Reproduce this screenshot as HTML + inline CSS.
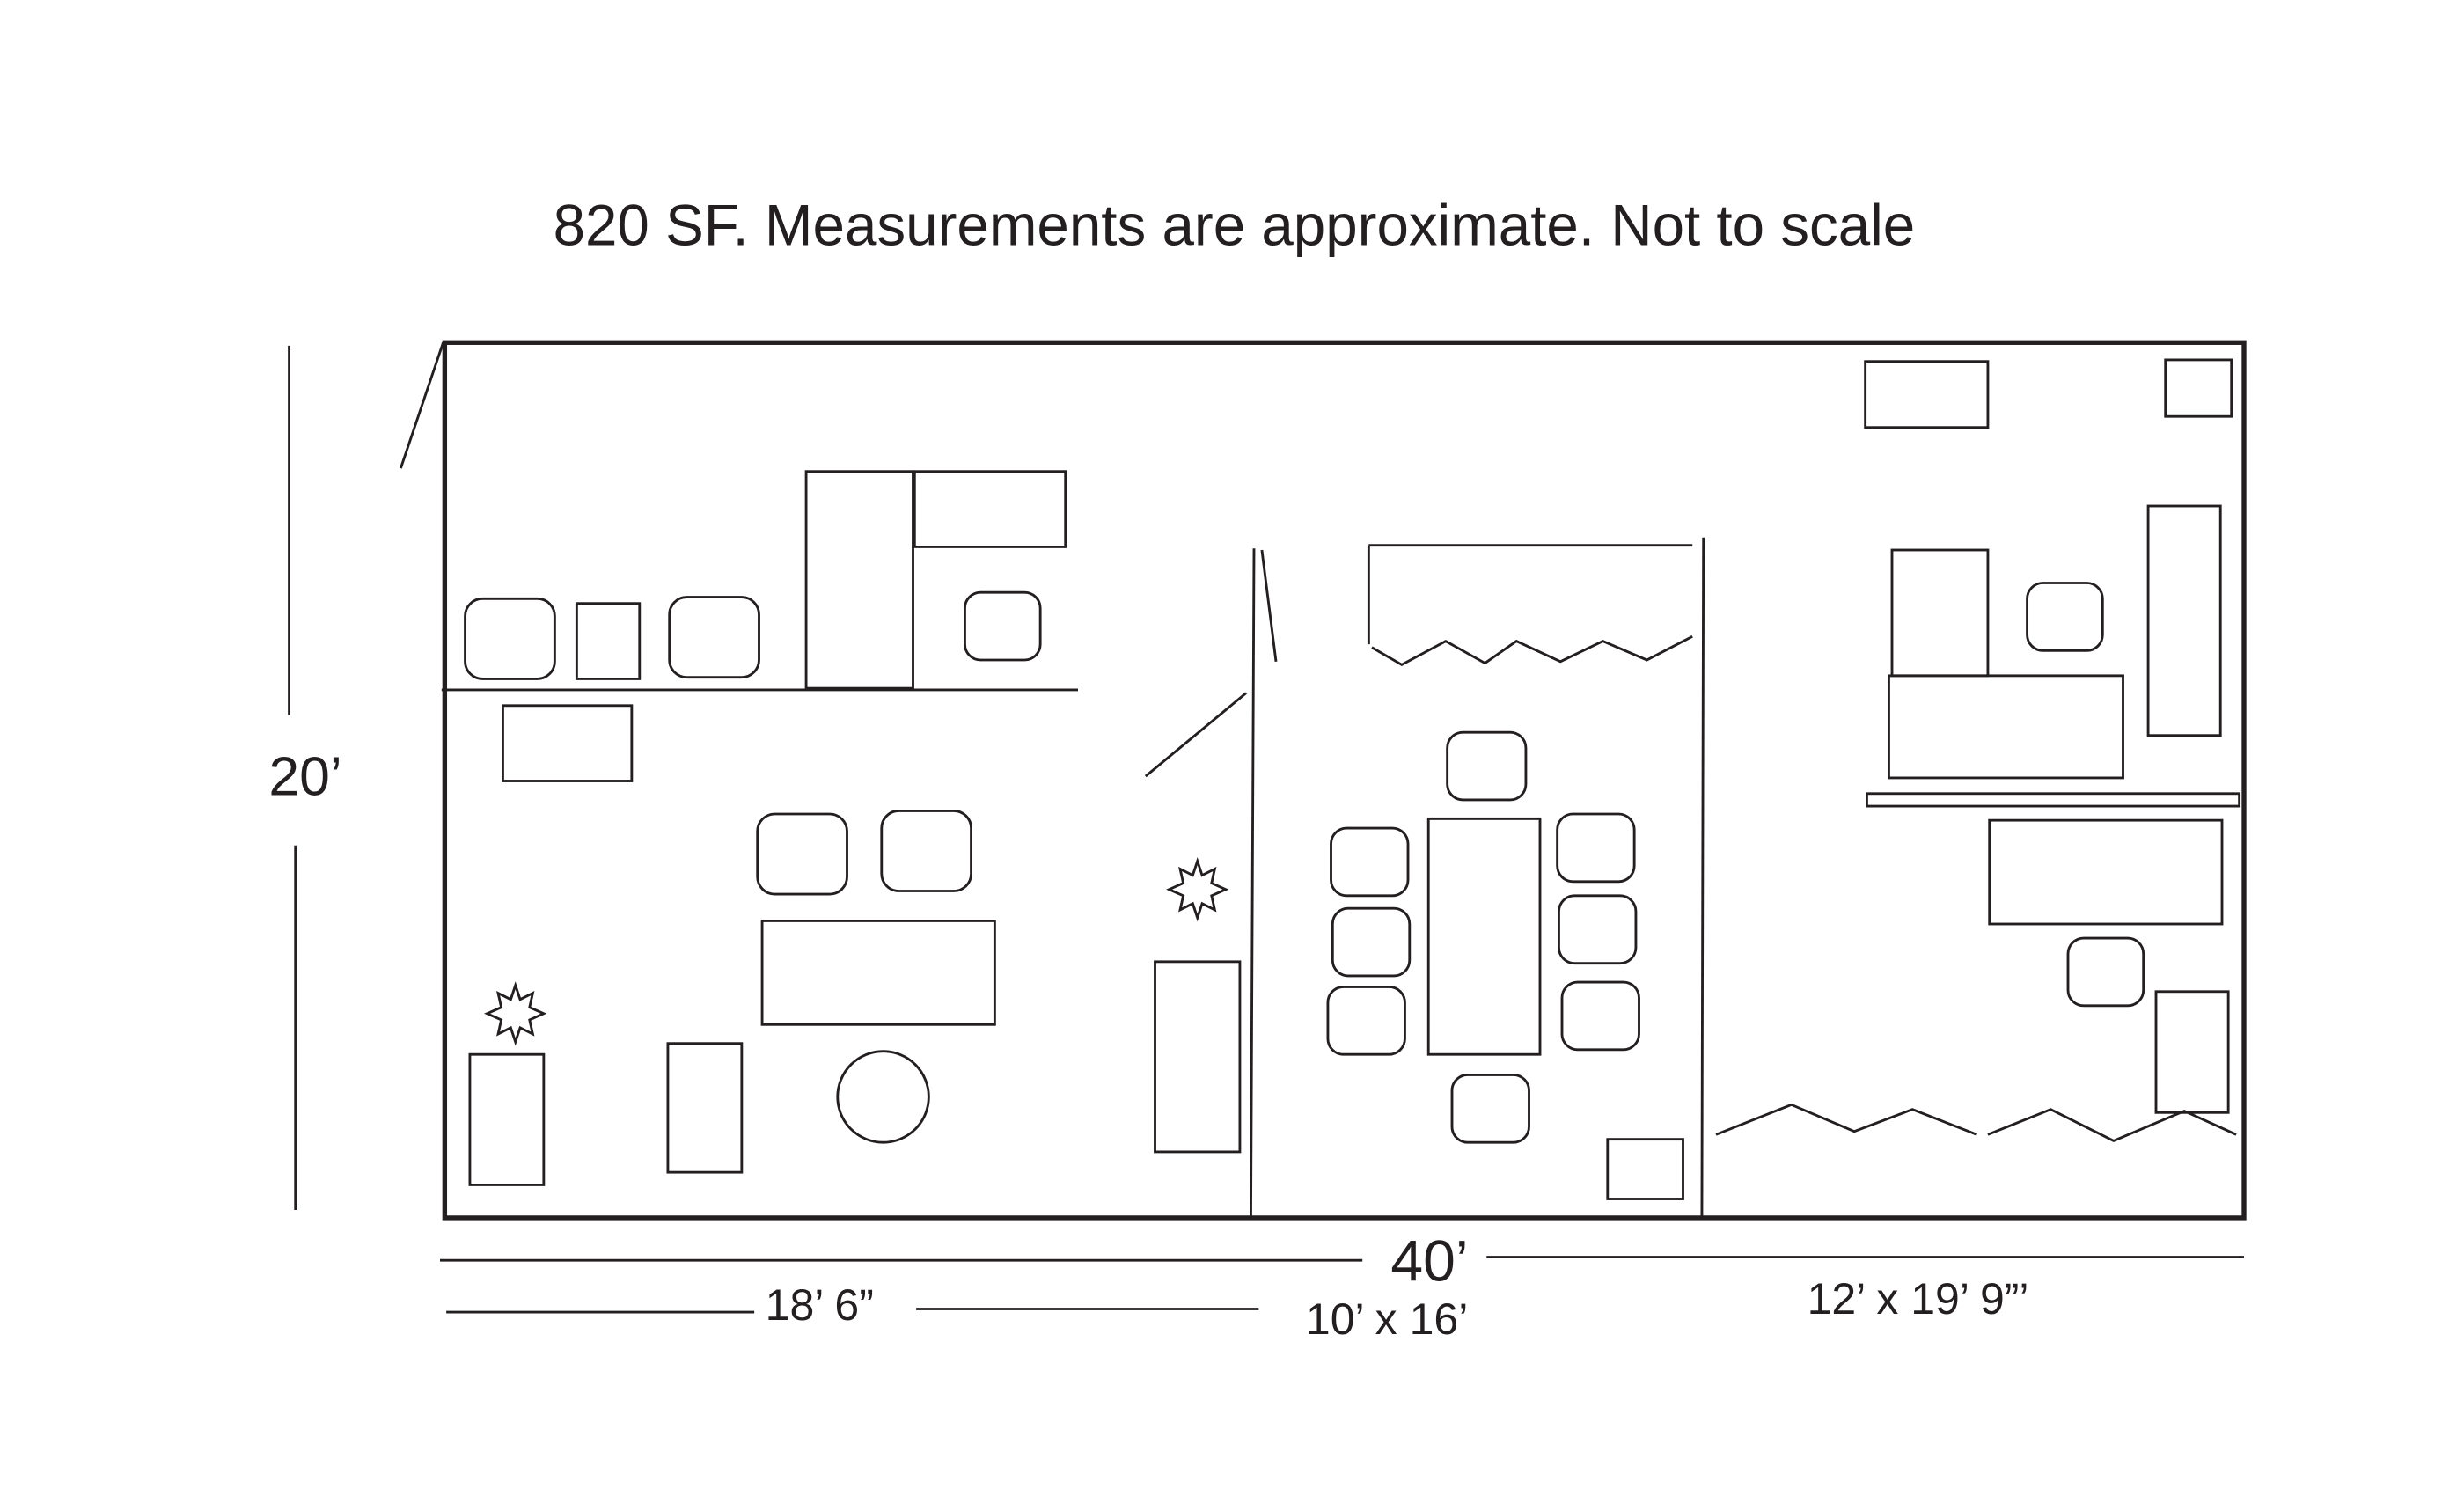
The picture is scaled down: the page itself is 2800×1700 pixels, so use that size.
<!DOCTYPE html>
<html><head><meta charset="utf-8"><style>
html,body{margin:0;padding:0;background:#fff;width:2800px;height:1700px;overflow:hidden}
svg{display:block}
text{font-family:"Liberation Sans",sans-serif;fill:#231f20}
</style></head><body>
<svg width="2800" height="1700" viewBox="0 0 1568 952" preserveAspectRatio="none" xmlns="http://www.w3.org/2000/svg">
<g fill="none" stroke="#231f20" stroke-width="1.6">
<text x="352" y="156" font-size="36.7" stroke="none">820 SF. Measurements are approximate. Not to scale</text>
<rect x="283" y="218" width="1145" height="557" stroke-width="3"/>
<line x1="282" y1="218" x2="255" y2="298"/>
<line x1="184" y1="220" x2="184" y2="455"/>
<line x1="188" y1="538" x2="188" y2="770"/>
<text x="171" y="506" font-size="35" stroke="none">20’</text>
<line x1="280" y1="802" x2="867" y2="802"/>
<text x="885" y="815" font-size="37" stroke="none">40’</text>
<line x1="946" y1="800" x2="1428" y2="800"/>
<line x1="284" y1="835" x2="480" y2="835"/>
<text x="487" y="840" font-size="28" stroke="none">18’ 6”</text>
<line x1="583" y1="833" x2="801" y2="833"/>
<text x="831" y="849" font-size="28" stroke="none">10’ x 16’</text>
<text x="1150" y="836" font-size="28" stroke="none">12’ x 19’ 9”’</text>
<line x1="281" y1="439" x2="686" y2="439"/>
<rect x="296" y="381" width="57" height="51" rx="11"/>
<rect x="367" y="384" width="40" height="48"/>
<rect x="426" y="380" width="57" height="51" rx="11"/>
<rect x="513" y="300" width="68" height="138"/>
<rect x="582" y="300" width="96" height="48"/>
<rect x="614" y="377" width="48" height="43" rx="10"/>
<rect x="320" y="449" width="82" height="48"/>
<rect x="482" y="518" width="57" height="51" rx="11"/>
<rect x="561" y="516" width="57" height="51" rx="11"/>
<rect x="485" y="586" width="148" height="66"/>
<circle cx="562" cy="698" r="29"/>
<rect x="425" y="664" width="47" height="82"/>
<rect x="299" y="671" width="47" height="83"/>
<polygon points="328,627 331,636 339,632 337,641 346,645 337,649 339,658 331,654 328,663 325,654 317,658 319,649 310,645 319,641 317,632 325,636"/>
<polygon points="762,548 765,557 773,553 771,562 780,566 771,570 773,579 765,575 762,584 759,575 751,579 753,570 744,566 753,562 751,553 759,557"/>
<rect x="735" y="612" width="54" height="121"/>
<line x1="729" y1="494" x2="793" y2="441"/>
<line x1="798" y1="349" x2="796" y2="775"/>
<line x1="803" y1="350" x2="812" y2="421"/>
<line x1="871" y1="347" x2="1077" y2="347"/>
<line x1="871" y1="347" x2="871" y2="410"/>
<polyline points="873,412 892,423 920,408 945,422 965,408 993,421 1020,408 1048,420 1077,405"/>
<line x1="1084" y1="342" x2="1083" y2="775"/>
<rect x="921" y="466" width="50" height="43" rx="10"/>
<rect x="909" y="521" width="71" height="150"/>
<rect x="847" y="527" width="49" height="43" rx="10"/>
<rect x="848" y="578" width="49" height="43" rx="10"/>
<rect x="845" y="628" width="49" height="43" rx="10"/>
<rect x="991" y="518" width="49" height="43" rx="10"/>
<rect x="992" y="570" width="49" height="43" rx="10"/>
<rect x="994" y="625" width="49" height="43" rx="10"/>
<rect x="924" y="684" width="49" height="43" rx="10"/>
<rect x="1023" y="725" width="48" height="38"/>
<rect x="1187" y="230" width="78" height="42"/>
<rect x="1378" y="229" width="42" height="36"/>
<rect x="1367" y="322" width="46" height="146"/>
<rect x="1204" y="350" width="61" height="80"/>
<rect x="1290" y="371" width="48" height="43" rx="10"/>
<rect x="1202" y="430" width="149" height="65"/>
<rect x="1188" y="505" width="237" height="8"/>
<rect x="1266" y="522" width="148" height="66"/>
<rect x="1316" y="597" width="48" height="43" rx="10"/>
<rect x="1372" y="631" width="46" height="77"/>
<polyline points="1092,722 1140,703 1180,720 1217,706 1258,722"/>
<polyline points="1265,722 1305,706 1345,726 1390,707 1423,722"/>
</g>
</svg>
</body></html>
